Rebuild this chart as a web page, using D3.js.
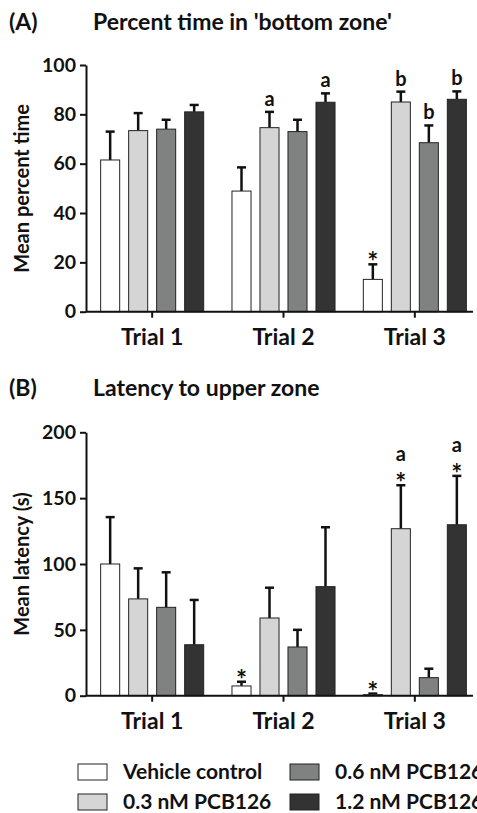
<!DOCTYPE html>
<html>
<head>
<meta charset="utf-8">
<script src="https://cdn.jsdelivr.net/npm/d3@7"></script>
<style>
  body { margin: 0; background: #fff; }
  text { font-family: Lato, "Open Sans", sans-serif; font-weight: bold; fill: #111; }
</style>
</head>
<body>
<div id="chart"></div>
<script>
// data
var trials = ["Trial 1", "Trial 2", "Trial 3"];
var groups = ["Vehicle control", "0.3 nM PCB126", "0.6 nM PCB126", "1.2 nM PCB126"];
var colors = ["#ffffff", "#d4d5d4", "#808181", "#333333"];

// (A) percent time in bottom zone, rows = trials, cols = groups
var meanA = [[61.5, 73.4, 74, 81], [48.9, 74.6, 73, 84.9], [13.1, 85, 68.5, 86.1]];
var errA = [[11.5, 7.1, 3.8, 2.8], [9.6, 6.4, 4.8, 3.6], [6.1, 4.2, 7, 3.2]];
var letterA = [["", "", "", ""], ["", "a", "", "a"], ["", "b", "b", "b"]];
var starA = [["", "", "", ""], ["", "", "", ""], ["*", "", "", ""]];

// (B) latency to upper zone
var meanB = [[100, 73.5, 67.1, 38.7], [7.4, 59, 37, 82.8], [0.8, 126.8, 13.7, 129.8]];
var errB = [[35.6, 23.2, 26.6, 34], [3.2, 23, 13, 45.1], [0.8, 33, 6.8, 37.1]];
var letterB = [["", "", "", ""], ["", "", "", ""], ["", "a", "", "a"]];
var starB = [["", "", "", ""], ["*", "", "", ""], ["*", "*", "", "*"]];

var width = 477, height = 813;

var svg = d3.select("#chart")
  .append("svg")
  .attr("width", width)
  .attr("height", height);

var x = d3.scaleBand().domain(trials).range([86.5, 480.5]);
var xInner = d3.scaleBand().domain(groups).range([-56, 56]).paddingInner(0.32).paddingOuter(0.16);

function panel(opts) {
  var y = d3.scaleLinear().domain(opts.domain).range(opts.range);
  var g = svg.append("g");

  // titles
  g.append("text").attr("x", 9).attr("y", opts.titleY).style("font-size", "23px").text(opts.tag);
  g.append("text").attr("x", 93).attr("y", opts.titleY).style("font-size", "23px").text(opts.title);

  // bars
  trials.forEach(function(t, i) {
    var cx = x(t) + x.bandwidth() / 2;
    groups.forEach(function(s, j) {
      var bx = cx + xInner(s);
      var bw = xInner.bandwidth();
      var top = y(opts.mean[i][j]);
      var errTop = y(opts.mean[i][j] + opts.err[i][j]);
      var mid = bx + bw / 2;

      g.append("line")
        .attr("x1", mid).attr("x2", mid)
        .attr("y1", top).attr("y2", errTop)
        .attr("stroke", "#111").attr("stroke-width", 2.5);
      g.append("line")
        .attr("x1", mid - 4.5).attr("x2", mid + 4.5)
        .attr("y1", errTop).attr("y2", errTop)
        .attr("stroke", "#111").attr("stroke-width", 2.5);

      g.append("rect")
        .attr("x", bx).attr("y", top)
        .attr("width", bw).attr("height", y(0) - top)
        .attr("fill", colors[j])
        .attr("stroke", "#222").attr("stroke-width", 1);

      if (opts.star[i][j]) {
        g.append("text").attr("x", mid).attr("y", errTop + 7)
          .attr("text-anchor", "middle").style("font-size", "26px")
          .text(opts.star[i][j]);
      }
      if (opts.letter[i][j]) {
        var off = opts.star[i][j] ? 24 : 6;
        g.append("text").attr("x", mid).attr("y", errTop - off)
          .attr("text-anchor", "middle").style("font-size", "20px")
          .text(opts.letter[i][j]);
      }
    });
  });

  // y axis
  var yAxis = g.append("g")
    .attr("transform", "translate(86,0)")
    .call(d3.axisLeft(y).tickValues(opts.ticks).tickSize(6).tickPadding(4).tickSizeOuter(0));
  yAxis.selectAll("path, line").attr("stroke", "#111").attr("stroke-width", 2);
  yAxis.selectAll("text").style("font-size", "19.5px").attr("fill", "#111")
    .style("font-family", "Lato, sans-serif").style("font-weight", "bold");

  // x axis
  var xAxis = g.append("g")
    .attr("transform", "translate(0," + y(0) + ")")
    .call(d3.axisBottom(x).tickSize(6).tickPadding(11).tickSizeOuter(0));
  xAxis.select(".domain").remove();
  xAxis.append("line").attr("x1", 86).attr("x2", 473).attr("stroke", "#111").attr("stroke-width", 2);
  xAxis.selectAll(".tick line").attr("stroke", "#111").attr("stroke-width", 2);
  xAxis.selectAll("text").style("font-size", "23px").attr("fill", "#111")
    .style("font-family", "Lato, sans-serif").style("font-weight", "bold");

  // y label
  var cy = (opts.range[0] + opts.range[1]) / 2;
  g.append("text")
    .attr("transform", "translate(29," + cy + ") rotate(-90)")
    .attr("text-anchor", "middle")
    .style("font-size", "20px")
    .text(opts.ylabel);
}

panel({
  tag: "(A)", title: "Percent time in 'bottom zone'", titleY: 30,
  domain: [0, 100], range: [311.7, 65], ticks: [0, 20, 40, 60, 80, 100],
  mean: meanA, err: errA, letter: letterA, star: starA,
  ylabel: "Mean percent time"
});

panel({
  tag: "(B)", title: "Latency to upper zone", titleY: 396,
  domain: [0, 200], range: [695.7, 432.3], ticks: [0, 50, 100, 150, 200],
  mean: meanB, err: errB, letter: letterB, star: starB,
  ylabel: "Mean latency (s)"
});

// legend, two columns
var legend = svg.append("g");
groups.forEach(function(s, j) {
  var lx = (j === 0 || j === 1) ? 78 : 290;
  var ly = (j === 0 || j === 2) ? 764 : 794;
  legend.append("rect")
    .attr("x", lx).attr("y", ly)
    .attr("width", 29).attr("height", 16)
    .attr("fill", colors[j]).attr("stroke", "#222").attr("stroke-width", 1);
  legend.append("text")
    .attr("x", lx + 45).attr("y", ly + 15)
    .style("font-size", "21px")
    .text(s);
});
</script>
</body>
</html>
